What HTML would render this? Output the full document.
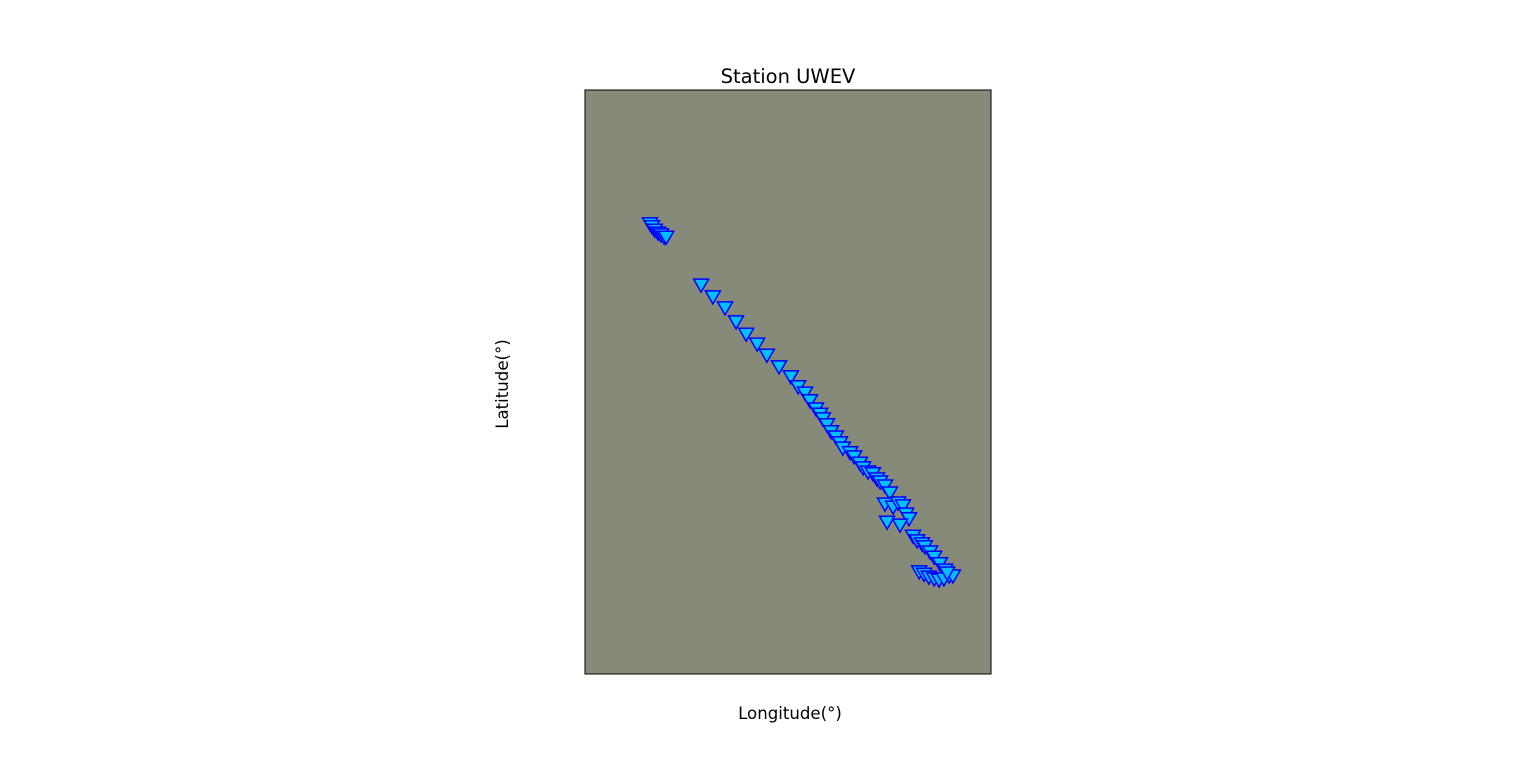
<!DOCTYPE html>
<html><head><meta charset="utf-8"><style>
html,body{margin:0;padding:0;background:#fff;}
svg{display:block;font-family:"DejaVu Sans","Liberation Sans",sans-serif;}
</style></head><body>
<svg id="chart" width="1536" height="757" viewBox="0 0 1536 757">
<rect x="585" y="90" width="406" height="584" fill="#868b79"/>
<g id="marks"></g>
<rect x="585" y="90" width="406" height="584" fill="none" stroke="#000" stroke-width="1"/>
<text x="788" y="83" font-size="19.5" text-anchor="middle">Station UWEV</text>
<text x="790" y="719" font-size="16.6" text-anchor="middle">Longitude(°)</text>
<text transform="translate(508,384) rotate(-90)" font-size="16.6" text-anchor="middle">Latitude(°)</text>
</svg>
<script>
const lons=[16.0,16.5,17.2,18.0,18.7,19.5,20.0,28.6,31.5,34.5,37.2,39.7,42.4,44.8,47.8,50.7,52.5,54.2,55.4,56.9,57.9,58.6,59.6,60.6,61.8,62.8,63.5,65.3,66.3,67.7,68.5,69.7,70.9,71.9,72.7,73.9,75.1,73.9,75.9,77.1,78.3,79.1,79.8,74.4,77.6,80.8,81.8,83.0,83.7,85.0,86.0,87.4,88.7,82.3,83.5,84.7,86.0,87.2,88.4,89.7,90.6,89.2];
const lats=[76.4,75.9,75.3,74.8,74.5,74.1,74.1,65.9,63.9,62.0,59.6,57.5,55.8,53.9,51.9,50.2,48.5,47.4,46.1,44.7,43.8,43.0,42.0,40.8,39.9,38.9,38.0,37.2,36.5,35.4,34.6,33.9,33.6,32.7,32.2,31.5,30.3,28.4,27.9,28.6,28.1,26.7,25.9,25.3,24.8,22.9,22.1,21.6,21.1,20.2,19.3,18.2,17.1,16.8,16.4,15.9,15.6,15.4,15.6,16.1,16.1,16.6];
const xScale=v=>585+v*4.06;
const yScale=v=>674-v*5.84;
const g=document.getElementById('marks');
for(let i=0;i<lons.length;i++){
  const x=xScale(lons[i]),y=yScale(lats[i]);
  const p=document.createElementNS('http://www.w3.org/2000/svg','polygon');
  p.setAttribute('points',`${x-7.5},${y-10} ${x+7.5},${y-10} ${x},${y+3}`);
  p.setAttribute('fill','#00bfff');
  p.setAttribute('stroke','#0000ff');
  p.setAttribute('stroke-width','1.5');
  
  
  g.appendChild(p);
}
</script>
</body></html>
